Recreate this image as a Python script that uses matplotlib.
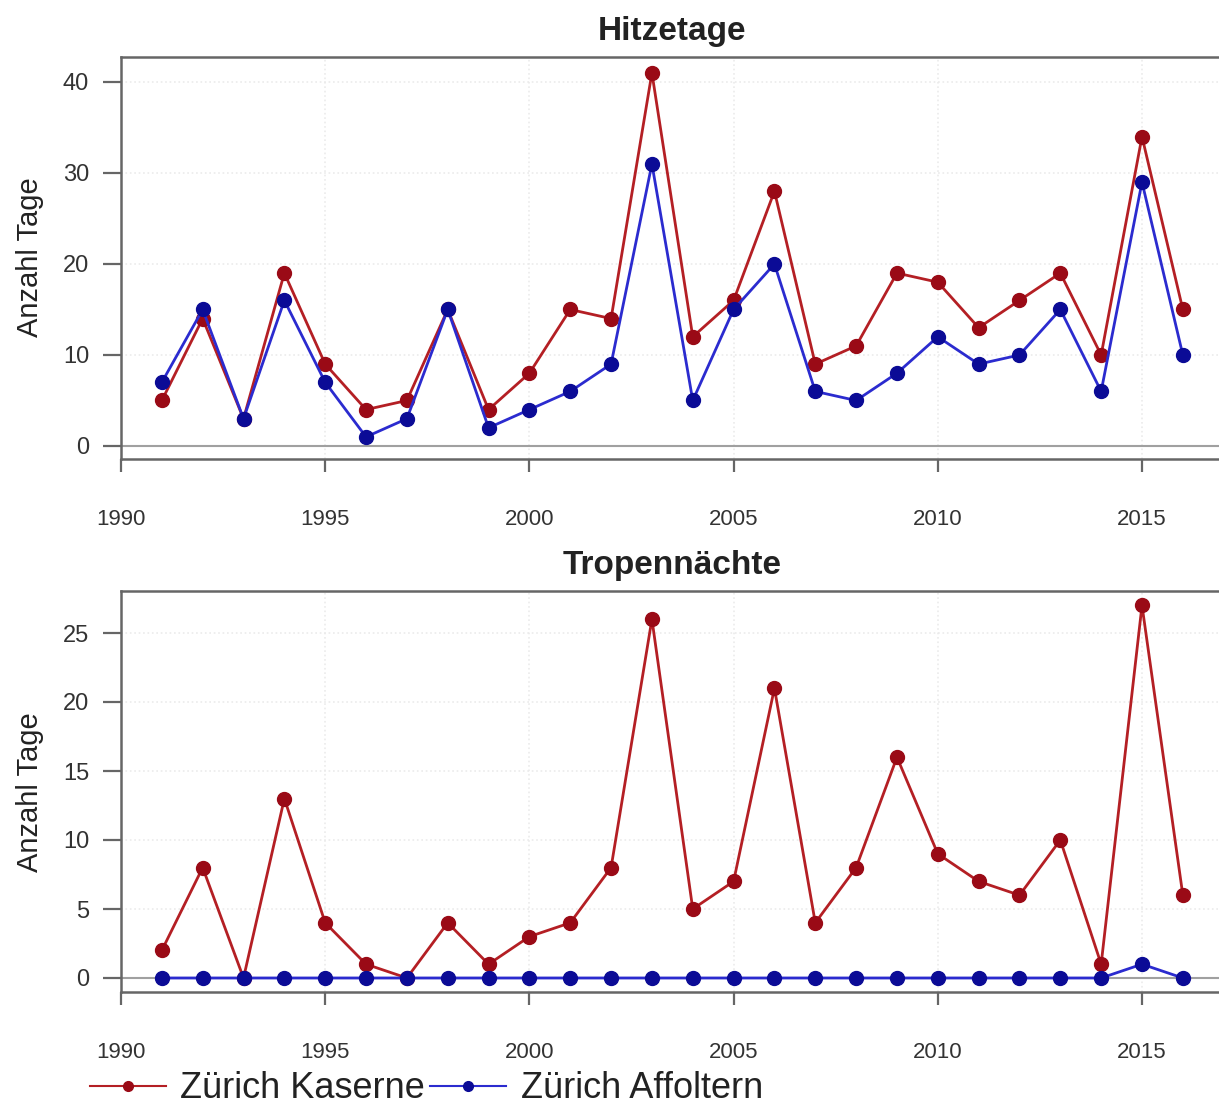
import matplotlib
matplotlib.use("Agg")
import matplotlib.pyplot as plt
from matplotlib.lines import Line2D

plt.rcParams['font.family'] = ['Liberation Sans', 'DejaVu Sans']

years = list(range(1991, 2017))
hitze_kaserne = [5, 14, 3, 19, 9, 4, 5, 15, 4, 8, 15, 14, 41, 12, 16, 28, 9, 11, 19, 18, 13, 16, 19, 10, 34, 15]
hitze_affoltern = [7, 15, 3, 16, 7, 1, 3, 15, 2, 4, 6, 9, 31, 5, 15, 20, 6, 5, 8, 12, 9, 10, 15, 6, 29, 10]
tropen_kaserne = [2, 8, 0, 13, 4, 1, 0, 4, 1, 3, 4, 8, 26, 5, 7, 21, 4, 8, 16, 9, 7, 6, 10, 1, 27, 6]
tropen_affoltern = [0, 0, 0, 0, 0, 0, 0, 0, 0, 0, 0, 0, 0, 0, 0, 0, 0, 0, 0, 0, 0, 0, 0, 0, 1, 0]
x_ticks = [1990, 1995, 2000, 2005, 2010, 2015]
hitze_yticks = [0, 10, 20, 30, 40]
tropen_yticks = [0, 5, 10, 15, 20, 25]
titles = ["Hitzetage", "Tropennächte"]
ylabel = "Anzahl Tage"
legend_labels = ["Zürich Kaserne", "Zürich Affoltern"]

W, H = 1219, 1111
fig = plt.figure(figsize=(W / 100, H / 100), dpi=100)

red_line = '#b41f24'
red_marker = '#9a0a16'
blue_line = '#2b2bcf'
blue_marker = '#0b0b96'
spine_col = '#666666'

px_per_year = (1142 - 121) / 25.0


def make_axes(top_px, bottom_px, zero_px, px_per_unit):
    left_px, right_px = 121, 1223
    ax = fig.add_axes([left_px / W, 1 - bottom_px / H, (right_px - left_px) / W, (bottom_px - top_px) / H])
    ax.set_xlim(1990, 1990 + (right_px - left_px) / px_per_year)
    ax.set_ylim(-(bottom_px - zero_px) / px_per_unit, (zero_px - top_px) / px_per_unit)
    return ax


ax1 = make_axes(57, 459, 446, 9.1)
ax2 = make_axes(591, 992, 978, 13.8)

for ax, kas, aff, yt, title in [(ax1, hitze_kaserne, hitze_affoltern, hitze_yticks, titles[0]),
                                (ax2, tropen_kaserne, tropen_affoltern, tropen_yticks, titles[1])]:
    ax.set_xticks(x_ticks)
    ax.set_yticks(yt)
    ax.set_axisbelow(True)
    ax.grid(True, color='#ebebeb', linestyle=':', linewidth=1.2)
    ax.axhline(0, color='#a0a0a0', linewidth=1.5, zorder=2)
    ax.plot(years, kas, color=red_line, linewidth=2.0, marker='o', markersize=10,
            markerfacecolor=red_marker, markeredgecolor=red_marker, zorder=3)
    ax.plot(years, aff, color=blue_line, linewidth=2.0, marker='o', markersize=10,
            markerfacecolor=blue_marker, markeredgecolor=blue_marker, zorder=4)
    for s in ['top', 'left', 'bottom', 'right']:
        ax.spines[s].set_color(spine_col)
        ax.spines[s].set_linewidth(1.8)
    ax.spines['right'].set_visible(False)
    ax.tick_params(axis='x', direction='out', length=9, width=1.6, color=spine_col,
                   pad=27, labelsize=16, labelcolor='#333333')
    ax.tick_params(axis='y', direction='out', length=13, width=1.6, color=spine_col,
                   pad=10, labelsize=17, labelcolor='#333333')
    ax.set_title(title, fontsize=24, fontweight='bold', color='#222222', pad=12)

fig.text(30 / W, 1 - 257 / H, ylabel, rotation=90, ha='center', va='center', fontsize=21, color='#222222')
fig.text(30 / W, 1 - 792 / H, ylabel, rotation=90, ha='center', va='center', fontsize=21, color='#222222')

handles = [
    Line2D([], [], color=red_line, linewidth=1.5, marker='o', markersize=7,
           markerfacecolor=red_marker, markeredgecolor=red_marker),
    Line2D([], [], color=blue_line, linewidth=1.5, marker='o', markersize=7,
           markerfacecolor=blue_marker, markeredgecolor=blue_marker),
]
leg = fig.legend(handles, legend_labels, loc='center left', bbox_to_anchor=(90 / W, 1 - 1089 / H),
                 ncol=2, frameon=False, fontsize=26, handlelength=2.1, handletextpad=0.4,
                 columnspacing=0.15, borderpad=0, borderaxespad=0)
for t in leg.get_texts():
    t.set_color('#222222')

fig.savefig('out.png', dpi=100)
